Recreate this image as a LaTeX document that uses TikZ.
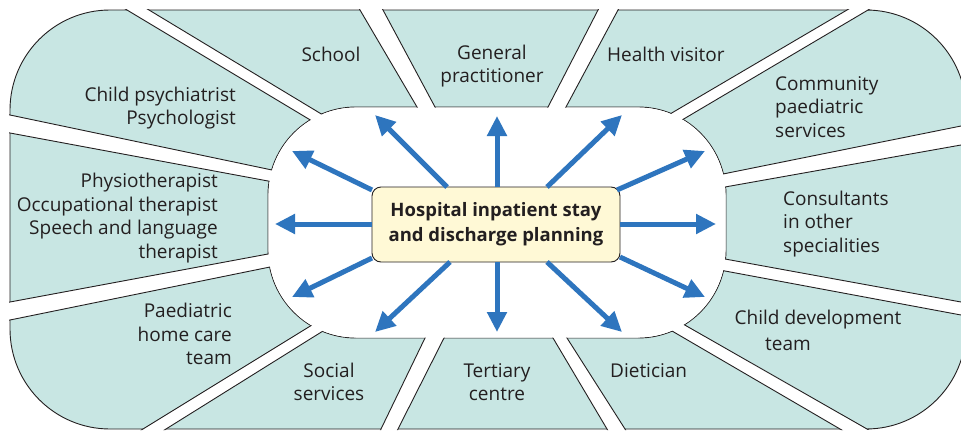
\documentclass[tikz,border=0pt]{standalone}
\usepackage{fontspec}
\setmainfont{Open Sans}
\usetikzlibrary{calc,arrows.meta}
\definecolor{teal0}{RGB}{200,230,227}
\definecolor{ink}{RGB}{35,31,32}
\definecolor{arrowblue}{RGB}{46,117,190}
\definecolor{boxfill}{RGB}{255,249,214}
\newcommand\gapband[4]{%
  \fill[white] ($(#1)!-40pt!(#2)$) -- ($(#2)!-40pt!(#1)$) -- ($(#4)!-40pt!(#3)$) -- ($(#3)!-40pt!(#4)$) -- cycle;
  \draw[outline] ($(#1)!-40pt!(#2)$) -- ($(#2)!-40pt!(#1)$);
  \draw[outline] ($(#3)!-40pt!(#4)$) -- ($(#4)!-40pt!(#3)$);
}
\begin{document}
\begin{tikzpicture}[x=1pt,y=-1pt,
  outline/.style={draw=ink, line width=0.9pt},
  lbl/.style={font=\fontsize{19}{23.5}\selectfont, text=ink, inner sep=0pt},
  arr/.style={draw=arrowblue, line width=5pt, -{Triangle[length=20pt,width=19pt]}}]
\useasboundingbox (0,0) rectangle (961,431);
\clip (0,0) rectangle (961,431);
% outer and inner shapes
\path[fill=teal0, outline, rounded corners=100pt] (10,10) rectangle (966,429);
\path[fill=white, outline, rounded corners=88pt] (268,107) rectangle (726,338);
% gaps between the sectors
\begin{scope}
  \clip[rounded corners=101pt] (9,9) rectangle (967,430);
  \gapband{127,10}{312,121}{149,10}{323,115}
  \gapband{360,10}{417,107}{383,10}{435,107}
  \gapband{598,10}{548,107}{618,10}{566,107}
  \gapband{847,10}{670,114}{868,10}{682,120}
  \gapband{961,126}{723,174}{961,145}{725,187}
  \gapband{10,115}{272,170}{10,133}{268,181}
  \gapband{10,302}{268,254}{10,320}{270,267}
  \gapband{143,429}{312,325}{166,429}{323,331}
  \gapband{381,429}{425,338}{398,429}{444,338}
  \gapband{607,429}{553,338}{625,429}{567,338}
  \gapband{840,429}{672,331}{867,429}{683,324}
  \gapband{961,302}{725,259}{961,315}{725,271}
\end{scope}
\fill[white, rounded corners=87.5pt] (268.5,107.5) rectangle (725.5,337.5);
% labels
\node[lbl] (school) at (331,54) {School};
\node[lbl, align=center] (gp) at (492,66) {General\\practitioner};
\node[lbl, anchor=west] (hv) at (607,54) {Health visitor};
\node[lbl, align=right, anchor=east] (psych) at (236,108) {Child psychiatrist\\Psychologist};
\node[lbl, align=left, anchor=west] (comm) at (775,107) {Community\\paediatric\\services};
\node[lbl, align=right, anchor=east] (physio) at (218,218) {Physiotherapist\\Occupational therapist\\Speech and language\\therapist};
\node[lbl, align=left, anchor=west] (cons) at (783,224) {Consultants\\in other\\specialities};
\node[lbl, align=right, anchor=east] (paed) at (232,334) {Paediatric\\home care\\team};
\node[lbl] (cdev) at (818,320) {Child development};
\node[lbl, anchor=west] (cdevb) at (765,344) {team};
\node[lbl, align=center] (social) at (329,382) {Social\\services};
\node[lbl, align=center] (tert) at (497,382) {Tertiary\\centre};
\node[lbl, anchor=west] (diet) at (610,371) {Dietician};
% centre box
\node[draw=ink, line width=0.9pt, fill=boxfill, rounded corners=9pt,
      minimum width=248pt, minimum height=75pt, align=center, text=ink,
      font=\fontsize{18.5}{25}\selectfont\bfseries] (box) at (496,224.5)
      {Hospital inpatient stay\\and discharge planning};
% arrows
\foreach \s/\t in {{447,187}/{375,115}, {372,190}/{292,151}, {497,187}/{497,116},
                   {547,187}/{622,115}, {617,190}/{705,151}, {620,224}/{716,224},
                   {372,224}/{275,224}, {372,258}/{292,297}, {450,262}/{375,332},
                   {497,262}/{497,332}, {547,262}/{622,332}, {620,257}/{705,297}}{
  \coordinate (s) at (\s); \coordinate (t) at (\t);
  \draw[arr] (s) -- (t);
}
\end{tikzpicture}
\end{document}
